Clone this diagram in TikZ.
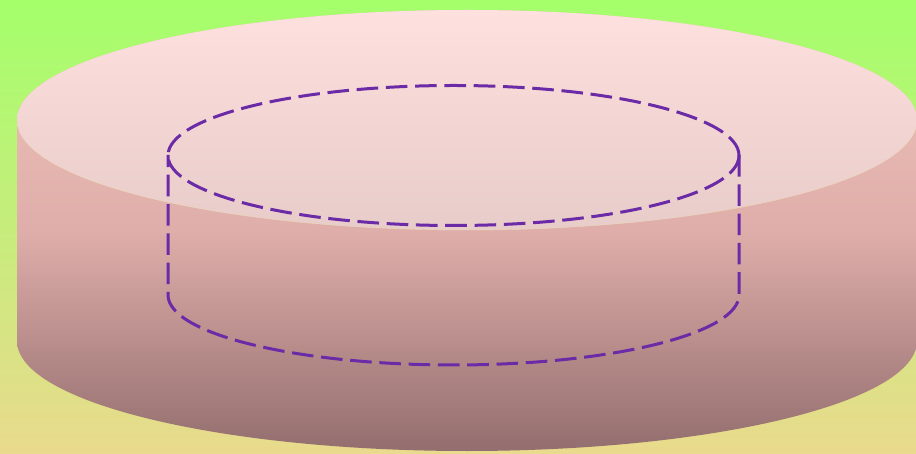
\documentclass[tikz,border=0pt]{standalone}
\definecolor{fondoalto}{HTML}{A4FF6B}
\definecolor{fondobajo}{HTML}{E9DA8D}
\definecolor{cuerpoalto}{HTML}{F0C2BA}
\definecolor{cuerpomedio}{HTML}{DFAEAA}
\definecolor{cuerpobajo}{HTML}{936E6E}
\definecolor{tapaalto}{HTML}{FEE0DE}
\definecolor{tapabajo}{HTML}{E8CCC9}
\definecolor{borde}{HTML}{EAD9B8}
\definecolor{trazo}{HTML}{6C2BA6}
\begin{document}
\begin{tikzpicture}[x=0.75pt, y=0.75pt]

		% --- FONDO ---
		\useasboundingbox (0,0) rectangle (916,453);
		\shade[top color=fondoalto, bottom color=fondobajo] (0,0) rectangle (916,453);

		% --- CILINDRO EXTERIOR ---
		\shade[top color=cuerpoalto, bottom color=cuerpobajo, middle color=cuerpomedio]
			(17,333) -- (17,112) arc (180:360:450 and 110) -- (917,333) arc (0:180:450 and 110) -- cycle;
		\shade[top color=tapaalto, bottom color=tapabajo] (467,333) ellipse (450 and 110);
		\draw[borde, line width=0.3pt] (17,333) arc (180:360:450 and 110);

		% --- CILINDRO INTERIOR (DISCONTINUO) ---
		\draw[trazo, line width=2.25pt, dash pattern=on 16.2pt off 5.775pt]
			(739,298) -- (739,158) arc (360:180:285.5 and 70) -- (168,298);
		\draw[trazo, line width=2.25pt, dash pattern=on 16.2pt off 5.775pt]
			(453.5,297.5) ellipse (285.5 and 70);

	\end{tikzpicture}
\end{document}
